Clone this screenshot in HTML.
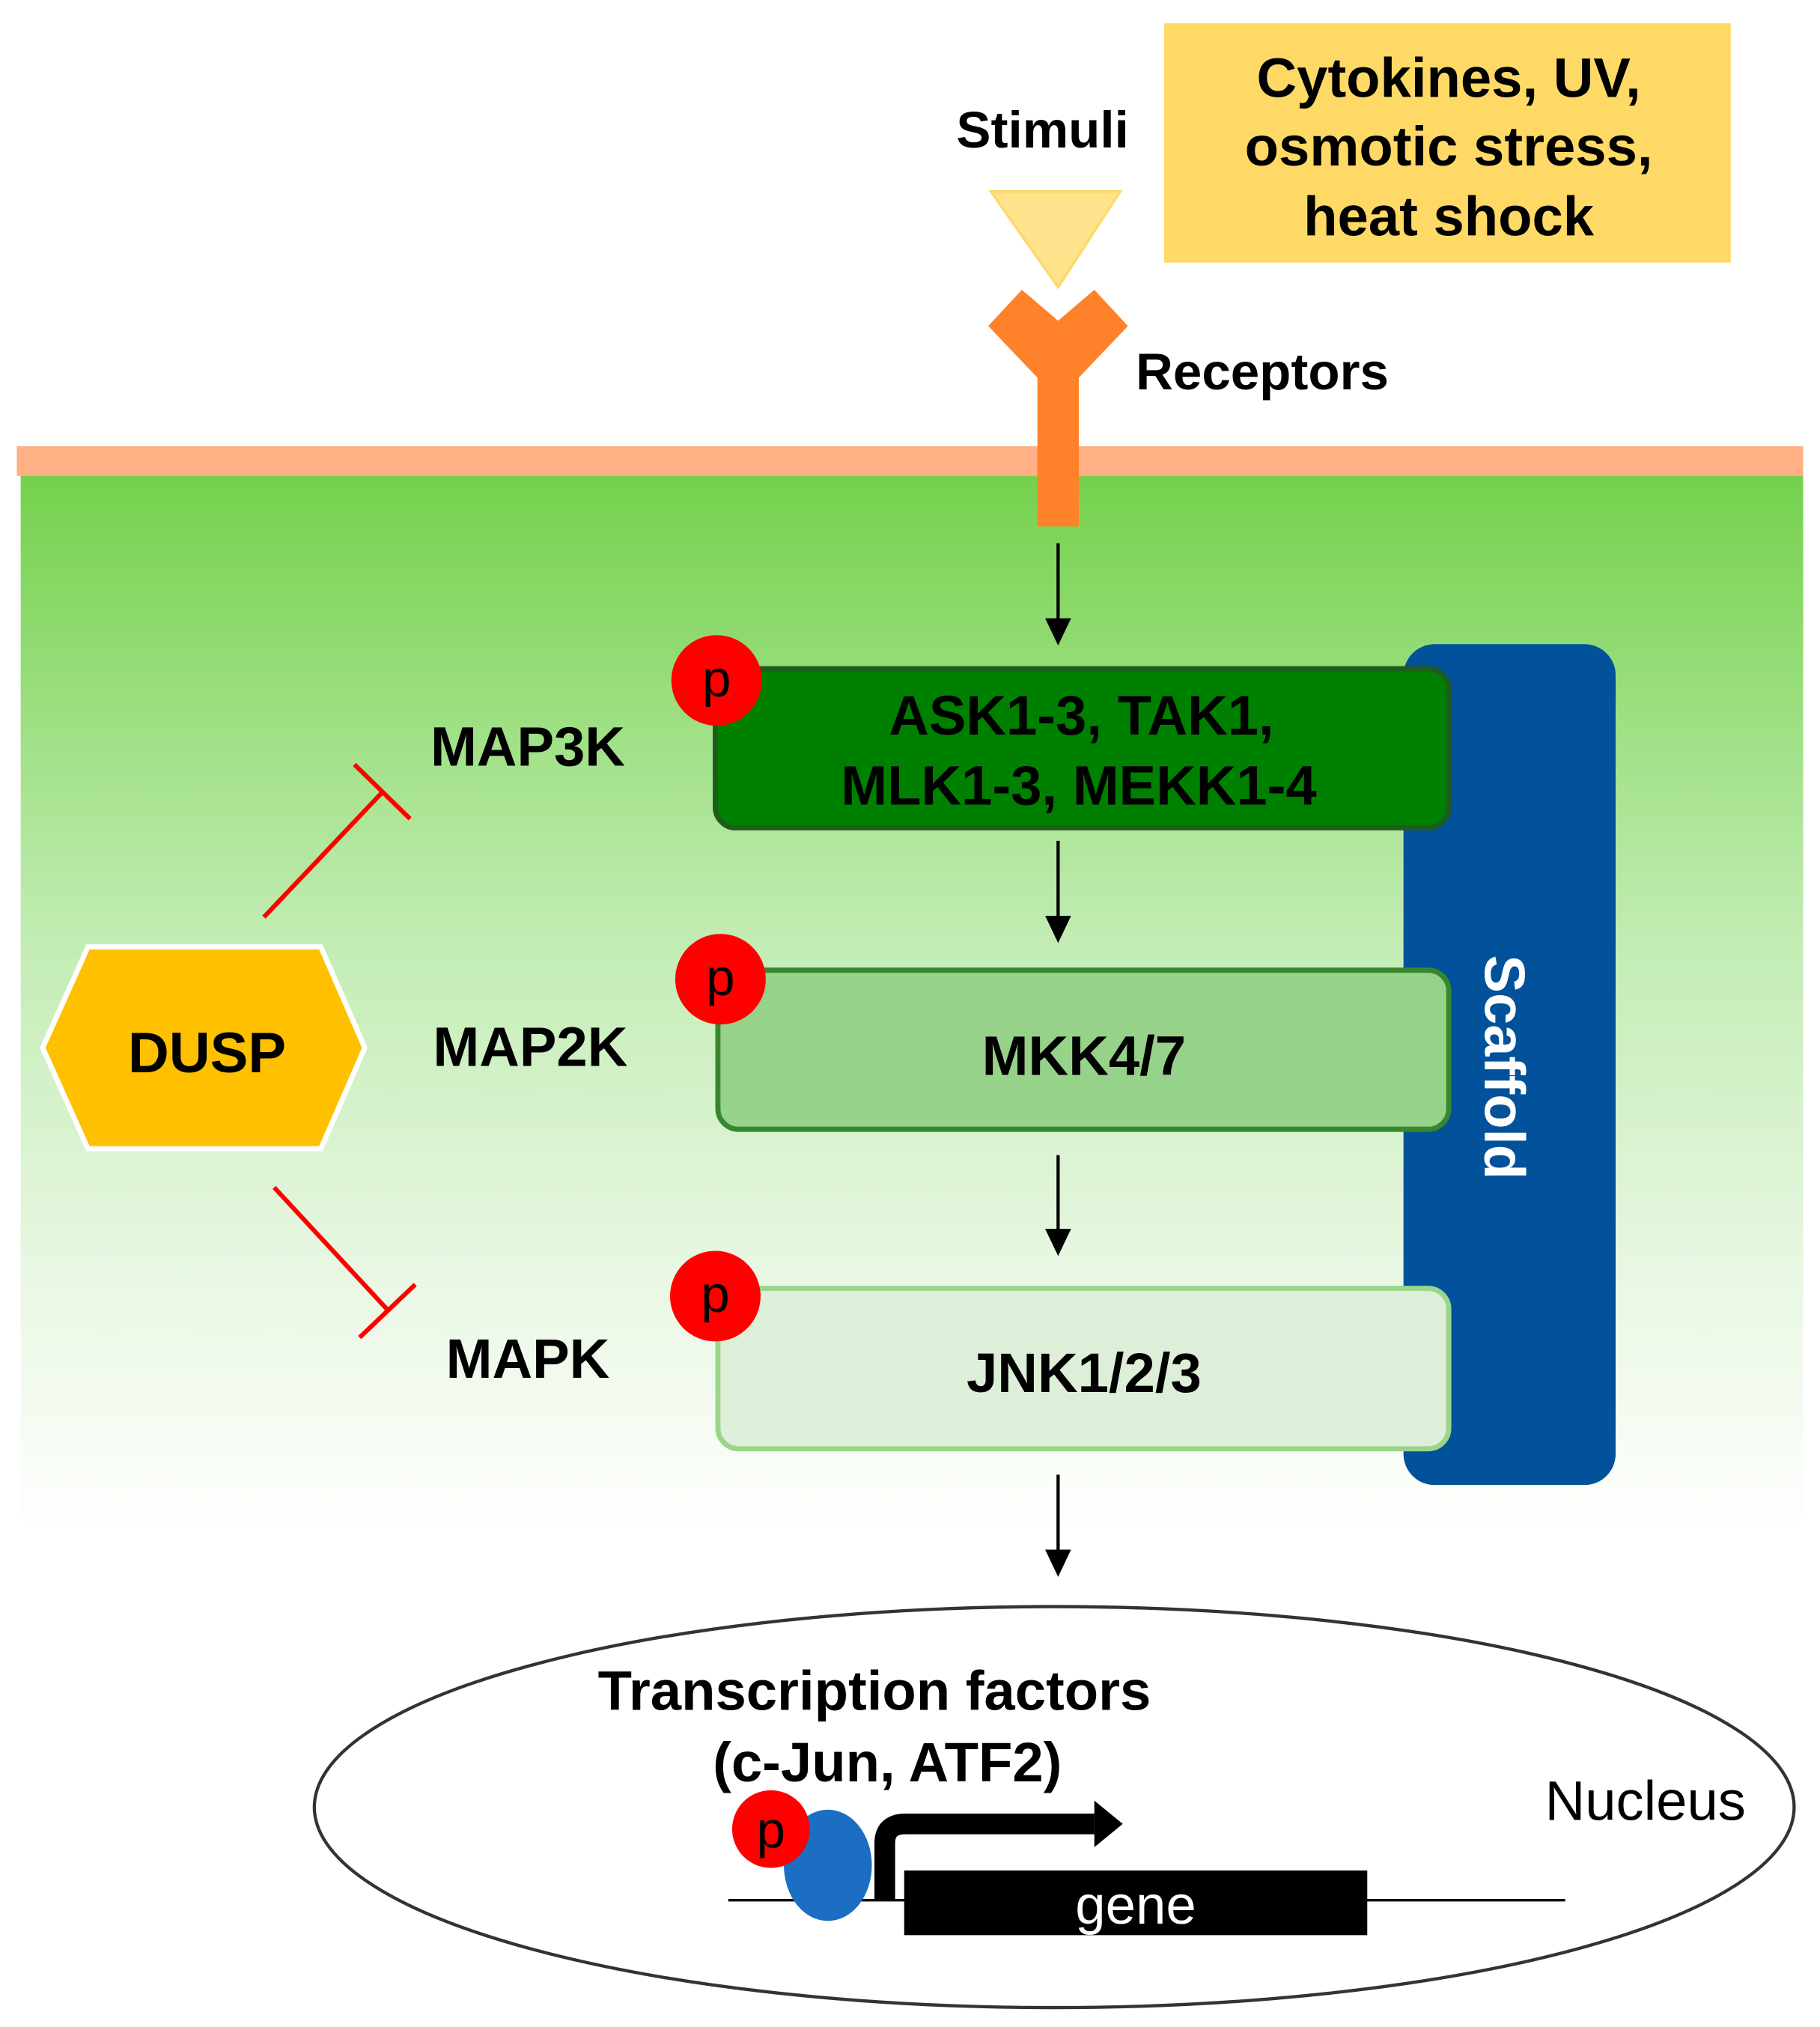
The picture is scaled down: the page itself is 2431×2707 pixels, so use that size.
<!DOCTYPE html>
<html><head><style>html,body{margin:0;padding:0;background:#fff}svg{display:block}</style></head>
<body>
<svg width="2431" height="2707" viewBox="0 0 1407 1567" preserveAspectRatio="none" xmlns="http://www.w3.org/2000/svg" font-family="Liberation Sans, Arial, sans-serif">
<defs>
<linearGradient id="g" x1="0" y1="0" x2="0" y2="1">
<stop offset="0" stop-color="#74D14C"/><stop offset="0.45" stop-color="#C4EDB6"/><stop offset="0.75" stop-color="#E8F7E2"/><stop offset="1" stop-color="#FFFFFF"/>
</linearGradient>
</defs>
<rect x="16" y="367" width="1378" height="820" fill="url(#g)"/>
<rect x="13" y="345" width="1381" height="23" fill="#FFB085"/>
<rect x="900" y="18" width="438" height="185" fill="#FFD966"/>
<g font-weight="bold" font-size="43" text-anchor="middle" fill="#000">
<text x="1120" y="75">Cytokines, UV,</text>
<text x="1120" y="128">osmotic stress,</text>
<text x="1120" y="182">heat shock</text>
</g>
<text x="806" y="114" font-weight="bold" font-size="40" text-anchor="middle">Stimuli</text>
<polygon points="766,148 866,148 818,222" fill="#FFE38C" stroke="#FFD966" stroke-width="2"/>
<polygon points="764,252 790,224 818,248 846,224 872,252 834,292 834,407 802,407 802,292" fill="#FF8129"/>
<text x="878" y="301" font-weight="bold" font-size="40">Receptors</text>
<g stroke="#000" stroke-width="2.5">
<line x1="818" y1="420" x2="818" y2="485"/>
<line x1="818" y1="650" x2="818" y2="715"/>
<line x1="818" y1="893" x2="818" y2="957"/>
<line x1="818" y1="1140" x2="818" y2="1205"/>
</g>
<g fill="#000">
<polygon points="808,478 828,478 818,499"/>
<polygon points="808,708 828,708 818,729"/>
<polygon points="808,950 828,950 818,971"/>
<polygon points="808,1198 828,1198 818,1219"/>
</g>
<rect x="1085" y="498" width="164" height="650" rx="24" fill="#01519B"/>
<text transform="translate(1148,825) rotate(90)" font-weight="bold" font-size="44" text-anchor="middle" fill="#fff">Scaffold</text>
<rect x="553" y="517" width="567" height="123" rx="16" fill="#008000" stroke="#1E5C1E" stroke-width="4"/>
<rect x="555" y="750" width="565" height="123" rx="16" fill="#97D28B" stroke="#38872E" stroke-width="4"/>
<rect x="555" y="996" width="565" height="124" rx="16" fill="#DDEFD8" stroke="#9AD68A" stroke-width="4"/>
<g font-weight="bold" font-size="43" text-anchor="middle" fill="#000">
<text x="836" y="568">ASK1-3, TAK1,</text>
<text x="834" y="622">MLK1-3, MEKK1-4</text>
<text x="838" y="831">MKK4/7</text>
<text x="838" y="1076">JNK1/2/3</text>
<text x="408" y="592">MAP3K</text>
<text x="410" y="824">MAP2K</text>
<text x="408" y="1065">MAPK</text>
</g>
<g fill="#FF0000"><circle cx="554" cy="526" r="35"/><circle cx="557" cy="757" r="35"/><circle cx="553" cy="1002" r="35"/></g>
<g font-size="40" fill="#000" text-anchor="middle">
<text x="554" y="538">p</text><text x="557" y="769">p</text><text x="553" y="1014">p</text>
</g>
<polygon points="33,810 68,732 248,732 282,810 248,888 68,888" fill="#FFC000" stroke="#fff" stroke-width="4"/>
<text x="160" y="829" font-weight="bold" font-size="44" text-anchor="middle">DUSP</text>
<g stroke="#FF0000" stroke-width="3.5" fill="none">
<line x1="204" y1="709" x2="296" y2="612"/><line x1="274" y1="591" x2="317" y2="633"/>
<line x1="212" y1="918" x2="300" y2="1013"/><line x1="278" y1="1034" x2="321" y2="993"/>
</g>
<ellipse cx="815" cy="1397" rx="572" ry="155" fill="none" stroke="#333" stroke-width="2.5"/>
<g font-weight="bold" font-size="43" text-anchor="middle" fill="#000">
<text x="676" y="1322">Transcription factors</text>
<text x="686" y="1377">(c-Jun, ATF2)</text>
</g>
<text x="1272" y="1407" font-size="43" text-anchor="middle" fill="#000">Nucleus</text>
<line x1="563" y1="1469" x2="1210" y2="1469" stroke="#000" stroke-width="2"/>
<rect x="699" y="1446" width="358" height="50" fill="#000"/>
<text x="878" y="1487" font-size="42" text-anchor="middle" fill="#fff">gene</text>
<path d="M684,1468 L684,1425 Q684,1410 700,1410 L846,1410" stroke="#000" stroke-width="16" fill="none"/>
<polygon points="846,1392 868,1410 846,1428" fill="#000"/>
<ellipse cx="640" cy="1442" rx="34" ry="43" fill="#1B6EC2"/>
<circle cx="596" cy="1414" r="30" fill="#FF0000"/>
<text x="596" y="1428" font-size="40" text-anchor="middle" fill="#000">p</text>
</svg>
</body></html>
